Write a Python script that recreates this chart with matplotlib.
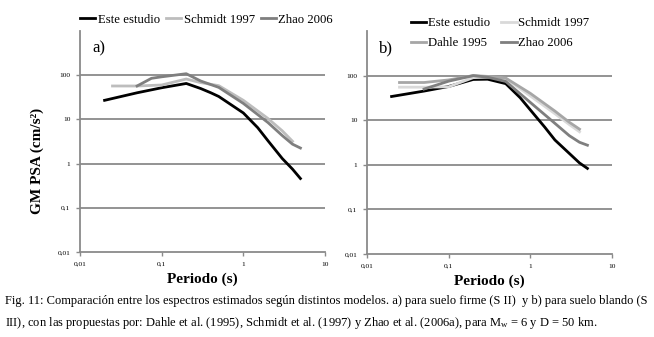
import matplotlib
matplotlib.use("Agg")
import matplotlib.pyplot as plt
from matplotlib.ticker import FixedLocator, FixedFormatter, NullLocator

plt.rcParams["font.family"] = ["Liberation Serif", "DejaVu Serif"]
plt.rcParams["mathtext.fontset"] = "custom"
plt.rcParams["mathtext.rm"] = "Liberation Serif"
plt.rcParams["mathtext.it"] = "Liberation Serif"

# ---- data (period s, PSA cm/s2) ----
# a) suelo firme
a_este_T = [0.02, 0.05, 0.1, 0.2, 0.3, 0.4, 0.5, 0.75, 1.0, 1.5, 2.0, 3.0, 4.0, 5.0]
a_este_y = [27, 40, 52, 65, 50, 40, 33, 20, 14, 6.5, 3.3, 1.3, 0.75, 0.46]
a_schm_T = [0.025, 0.05, 0.1, 0.2, 0.3, 0.5, 1.0, 2.0, 3.0, 4.0]
a_schm_y = [57, 57, 60, 82, 68, 58, 27, 10.5, 5.5, 3.2]
a_zhao_T = [0.05, 0.075, 0.1, 0.2, 0.3, 0.5, 1.0, 2.0, 3.0, 4.0, 5.0]
a_zhao_y = [57, 85, 92, 108, 74, 53, 23, 8.5, 4.3, 2.75, 2.25]

# b) suelo blando
b_este_T = [0.02, 0.05, 0.1, 0.2, 0.3, 0.5, 0.75, 1.0, 1.5, 2.0, 3.0, 4.0, 5.0]
b_este_y = [34, 45, 57, 82, 83, 66, 32, 17, 7, 3.6, 1.8, 1.1, 0.83]
b_schm_T = [0.025, 0.05, 0.1, 0.2, 0.3, 0.5, 1.0, 2.0, 3.0, 4.0]
b_schm_y = [55, 55, 56, 90, 92, 86, 35, 14, 8, 5.5]
b_dahl_T = [0.025, 0.05, 0.1, 0.2, 0.3, 0.5, 1.0, 2.0, 3.0, 4.0]
b_dahl_y = [70, 70, 80, 100, 96, 88, 40, 16, 9, 6.3]
b_zhao_T = [0.05, 0.1, 0.2, 0.3, 0.5, 1.0, 2.0, 3.0, 4.0, 5.0]
b_zhao_y = [50, 75, 100, 92, 74, 25, 8.5, 4.5, 3.2, 2.75]

x_ticks = [0.01, 0.1, 1, 10]
x_labels = ["0,01", "0,1", "1", "10"]
y_ticks = [0.01, 0.1, 1, 10, 100]
y_labels = ["0,01", "0,1", "1", "10", "100"]

C_ESTE = "#000000"
C_SCHM_A = "#bdbdbd"
C_SCHM_B = "#d9d9d9"
C_DAHL = "#a6a6a6"
C_ZHAO = "#7f7f7f"
GRID = "#8a8a8a"
LW = 2.0

fig = plt.figure(figsize=(6.54, 3.37), dpi=100)
W, H = 654, 337


def px_axes(x0, y0, x1, y1):
    return fig.add_axes([x0 / W, 1 - y1 / H, (x1 - x0) / W, (y1 - y0) / H])


def style(ax):
    ax.set_xscale("log")
    ax.set_yscale("log")
    ax.set_xlim(0.01, 10)
    ax.set_ylim(0.01, 1000)
    ax.xaxis.set_major_locator(FixedLocator(x_ticks))
    ax.xaxis.set_major_formatter(FixedFormatter(x_labels))
    ax.yaxis.set_major_locator(FixedLocator(y_ticks))
    ax.yaxis.set_major_formatter(FixedFormatter(y_labels))
    ax.xaxis.set_minor_locator(NullLocator())
    ax.yaxis.set_minor_locator(NullLocator())
    for s in ("top", "right"):
        ax.spines[s].set_visible(False)
    for s in ("left", "bottom"):
        ax.spines[s].set_color(GRID)
        ax.spines[s].set_linewidth(1.3)
    ax.tick_params(axis="both", which="major", labelsize=5.3, length=3,
                   width=1.0, color=GRID, pad=4, direction="out")
    for yv in [0.1, 1, 10, 100]:
        ax.axhline(yv, color=GRID, lw=1.3, zorder=1)


leg_kw = dict(frameon=False, fontsize=9.2, handlelength=1.2, borderaxespad=0.0,
              borderpad=0.0)

axa = px_axes(80, 31, 325, 252)
style(axa)
axa.plot(a_este_T, a_este_y, color=C_ESTE, lw=LW, label="Este estudio", zorder=3)
axa.plot(a_schm_T, a_schm_y, color=C_SCHM_A, lw=LW, label="Schmidt 1997", zorder=3)
axa.plot(a_zhao_T, a_zhao_y, color=C_ZHAO, lw=LW, label="Zhao 2006", zorder=3)
axa.text(0.014, 330, "a)", fontsize=12)
axa.set_ylabel("GM PSA (cm/s²)", fontsize=11, fontweight="bold")
axa.yaxis.set_label_coords(-0.145, 0.41)
axa.set_xlabel("Periodo (s)", fontsize=11, fontweight="bold", labelpad=4)
axa.legend(loc="center left", bbox_to_anchor=(0.0, 1.05), ncol=3,
           handletextpad=0.2, columnspacing=0.45, **leg_kw)

axb = px_axes(367, 31, 612, 254)
style(axb)
le, = axb.plot(b_este_T, b_este_y, color=C_ESTE, lw=LW, zorder=3)
ls, = axb.plot(b_schm_T, b_schm_y, color=C_SCHM_B, lw=LW, zorder=3)
ld, = axb.plot(b_dahl_T, b_dahl_y, color=C_DAHL, lw=LW, zorder=3)
lz, = axb.plot(b_zhao_T, b_zhao_y, color=C_ZHAO, lw=LW, zorder=3)
axb.text(0.014, 330, "b)", fontsize=12)
axb.set_xlabel("Periodo (s)", fontsize=11, fontweight="bold", labelpad=4)
axb.legend([le, ld, ls, lz], ["Este estudio", "Dahle 1995", "Schmidt 1997", "Zhao 2006"],
           loc="center left", bbox_to_anchor=(0.18, 0.99), ncol=2,
           handletextpad=0.1, columnspacing=0.9, labelspacing=0.6, **leg_kw)

fig.text(5 / W, 1 - 301 / H,
         "Fig. 11: Comparación entre los espectros estimados según distintos modelos. "
         "a) para suelo firme (S II)  y b) para suelo blando (S",
         fontsize=9.0, va="center", ha="left")
fig.text(5 / W, 1 - 323 / H,
         "III), con las propuestas por: Dahle et al. (1995), Schmidt et al. (1997) y "
         "Zhao et al. (2006a), para M$_\\mathregular{w}$ = 6 y D = 50 km.",
         fontsize=9.0, va="center", ha="left")

fig.savefig("out.png", dpi=100)
